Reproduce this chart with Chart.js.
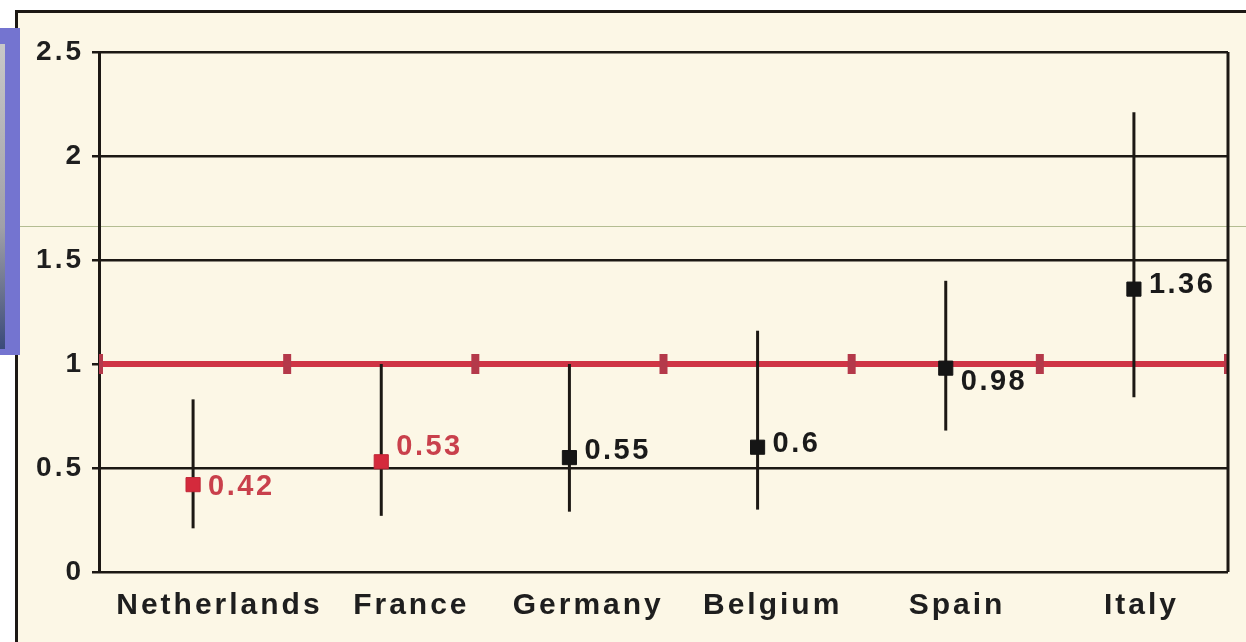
<!DOCTYPE html>
<html lang="en">
<head>
    <meta charset="UTF-8">
    <title>Odds ratio by country</title>
    <script src="https://cdn.jsdelivr.net/npm/chart.js"></script>
    <style>
        html, body {
            margin: 0;
            padding: 0;
            background: #ffffff;
            overflow: hidden;
        }
        .frame {
            position: absolute;
            left: 15px;
            top: 10px;
            width: 1300px;
            height: 700px;
            border-left: 3px solid #1c1814;
            border-top: 3px solid #1c1814;
            background: #fcf7e6;
        }
        .sideTab {
            position: absolute;
            left: 0;
            top: 28px;
            width: 20px;
            height: 327px;
            background: #7474d0;
        }
        .sideTab .inner {
            position: absolute;
            left: 0;
            top: 16px;
            width: 5px;
            height: 305px;
            background: linear-gradient(#c8c8c8, #a0a0a8 60%, #3a4a7a);
        }
        .hairline {
            position: absolute;
            left: 0;
            top: 226px;
            width: 1246px;
            height: 1px;
            background: #b4bd92;
        }
        .wrapper {
            position: absolute;
            left: 0;
            top: 0;
            width: 1246px;
            height: 642px;
        }
    </style>
</head>
<body>
    <div class="frame"></div>
    <div class="hairline"></div>
    <div class="sideTab"><div class="inner"></div></div>
    <div class="wrapper">
        <canvas id="chart" width="1246" height="642"></canvas>
    </div>

    <script>
        // Данные
        const countries = ['Netherlands', 'France', 'Germany', 'Belgium', 'Spain', 'Italy'];
        const oddsRatio = [0.42, 0.53, 0.55, 0.6, 0.98, 1.36];
        const ciLow = [0.21, 0.27, 0.29, 0.30, 0.68, 0.84];
        const ciHigh = [0.83, 1.0, 1.0, 1.16, 1.40, 2.21];
        const highlighted = [true, true, false, false, false, false];
        const yTickLabels = ['0', '0.5', '1', '1.5', '2', '2.5'];
        const referenceValue = 1;

        // Сдвиг подписей: по вертикали в пикселях, по горизонтали в долях категории
        const labelShiftY = [2, -15, -7, -3, 14, -4];
        const axisLabelNudge = [0.14, 0.16, 0.10, 0.08, 0.06, 0.04];

        const RED = '#cf3445';
        const DARK = '#1c1814';
        const LABEL_RED = '#c9404c';
        const FONT = '"Liberation Sans", Arial, sans-serif';

        const points = countries.map((c, i) => ({ x: i + 0.5, y: oddsRatio[i] }));
        const refLine = [];
        for (let i = 0; i <= countries.length; i++) {
            refLine.push({ x: i, y: referenceValue });
        }

        const spacingPlugin = {
            id: 'spacing',
            beforeUpdate(chart) { chart.ctx.letterSpacing = '3px'; },
            beforeDraw(chart) { chart.ctx.letterSpacing = '3px'; }
        };

        const frameBorder = {
            id: 'frameBorder',
            afterDraw(chart) {
                const { ctx, chartArea } = chart;
                ctx.save();
                ctx.strokeStyle = DARK;
                ctx.lineWidth = 3;
                ctx.beginPath();
                ctx.moveTo(chartArea.right, chartArea.top);
                ctx.lineTo(chartArea.right, chartArea.bottom);
                ctx.stroke();
                ctx.restore();
            }
        };

        const errorBars = {
            id: 'errorBars',
            beforeDatasetDraw(chart, args) {
                if (args.index !== 0) return;
                const { ctx, scales } = chart;
                ctx.save();
                ctx.strokeStyle = DARK;
                ctx.lineWidth = 3;
                countries.forEach((c, i) => {
                    const x = scales.x.getPixelForValue(i + 0.5);
                    ctx.beginPath();
                    ctx.moveTo(x, scales.y.getPixelForValue(ciHigh[i]));
                    ctx.lineTo(x, scales.y.getPixelForValue(ciLow[i]));
                    ctx.stroke();
                });
                ctx.restore();
            },
            afterDatasetsDraw(chart) {
                const { ctx, scales } = chart;
                ctx.save();
                ctx.letterSpacing = '2.5px';
                ctx.font = 'bold 29px ' + FONT;
                ctx.textAlign = 'left';
                ctx.textBaseline = 'middle';
                oddsRatio.forEach((v, i) => {
                    const x = scales.x.getPixelForValue(i + 0.5);
                    const y = scales.y.getPixelForValue(v);
                    ctx.fillStyle = highlighted[i] ? LABEL_RED : '#1a1a1a';
                    ctx.fillText(String(v), x + 15, y + labelShiftY[i]);
                });
                ctx.restore();
            }
        };

        const ctx = document.getElementById('chart').getContext('2d');
        new Chart(ctx, {
            type: 'scatter',
            data: {
                datasets: [
                    {
                        label: 'Odds ratio',
                        data: points,
                        pointStyle: 'rect',
                        pointRadius: 10,
                        backgroundColor: highlighted.map(h => h ? '#d42a3c' : '#151515'),
                        borderColor: highlighted.map(h => h ? '#c02636' : '#151515'),
                        borderWidth: 1
                    },
                    {
                        label: 'Reference',
                        type: 'line',
                        data: refLine,
                        borderColor: RED,
                        borderWidth: 6,
                        pointStyle: 'line',
                        rotation: 90,
                        pointRadius: 10,
                        pointBorderWidth: 8,
                        pointBorderColor: '#b4394a',
                        pointBackgroundColor: '#b4394a',
                        fill: false
                    }
                ]
            },
            options: {
                responsive: false,
                animation: false,
                layout: {
                    padding: { left: 0, top: 52, right: 13, bottom: 0 }
                },
                plugins: {
                    legend: { display: false },
                    tooltip: { enabled: false }
                },
                scales: {
                    x: {
                        type: 'linear',
                        min: 0,
                        max: countries.length,
                        afterBuildTicks(scale) {
                            scale.ticks = countries.map((c, i) => ({ value: i + 0.5 + axisLabelNudge[i] }));
                        },
                        afterFit(scale) { scale.height = 70; },
                        grid: { display: false },
                        border: { display: false },
                        ticks: {
                            autoSkip: false,
                            maxRotation: 0,
                            padding: 8,
                            color: '#1e1e1e',
                            font: { family: FONT, size: 30, weight: 'bold' },
                            callback: (value) => countries[Math.floor(value)]
                        }
                    },
                    y: {
                        min: 0,
                        max: 2.5,
                        afterFit(scale) { scale.width = 99; },
                        ticks: {
                            stepSize: 0.5,
                            padding: 8,
                            color: '#1e1e1e',
                            font: { family: FONT, size: 28, weight: 'bold' },
                            callback: (value) => yTickLabels[Math.round(value * 2)]
                        },
                        grid: {
                            color: DARK,
                            lineWidth: 2.5,
                            tickLength: 7
                        },
                        border: { color: DARK, width: 3 }
                    }
                }
            },
            plugins: [spacingPlugin, errorBars, frameBorder]
        });
    </script>
</body>
</html>
